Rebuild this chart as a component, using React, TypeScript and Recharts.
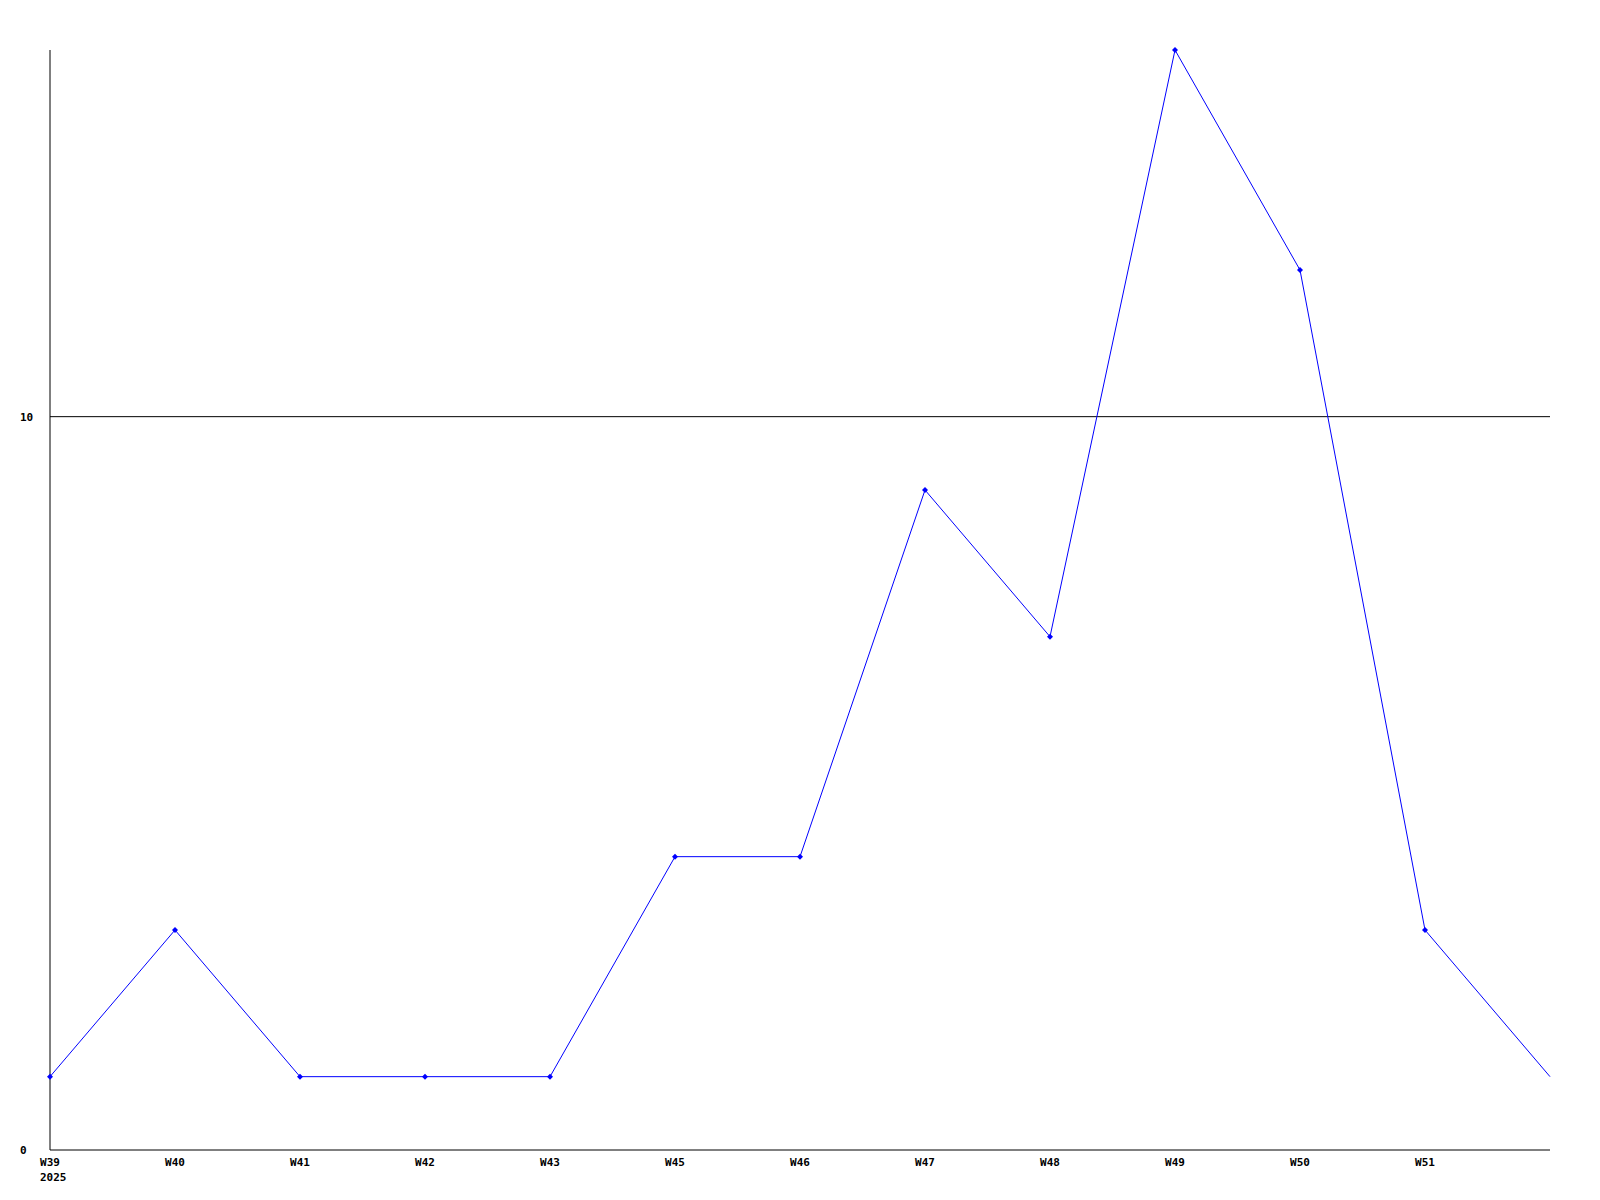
import { LineChart, Line, XAxis, YAxis, ReferenceLine } from 'recharts';

const weeks = ['W39', 'W40', 'W41', 'W42', 'W43', 'W45', 'W46', 'W47', 'W48', 'W49', 'W50', 'W51', ''];
const counts = [1, 3, 1, 1, 1, 4, 4, 9, 7, 15, 12, 3, 1];
const yTicks = [0, 10];
const yearLabel = '2025';

const data = weeks.map((w, i) => ({ week: w, idx: i, count: counts[i] }));

const font = '"DejaVu Sans Mono", monospace';

function XTick(props: any) {
    const { x, y, payload } = props;
    const label = weeks[payload.value];
    return (
        <g>
            <text x={x} y={y + 8} textAnchor="middle" fontFamily={font} fontWeight="bold" fontSize={11} fill="#000">{label}</text>
            {payload.value === 0 && (
                <text x={x - 10} y={y + 23} textAnchor="start" fontFamily={font} fontWeight="bold" fontSize={11} fill="#000">{yearLabel}</text>
            )}
        </g>
    );
}

function YTick(props: any) {
    const { y, payload } = props;
    return (
        <text x={20} y={y + 4} textAnchor="start" fontFamily={font} fontWeight="bold" fontSize={11} fill="#000">{payload.value}</text>
    );
}

function Dot(props: any) {
    const { cx, cy, index } = props;
    if (weeks[index] === '') return <g key={index} />;
    return (
        <path key={index} d={`M${cx - 3},${cy} L${cx},${cy - 3} L${cx + 3},${cy} L${cx},${cy + 3} Z`} fill="#0000ff" stroke="none" />
    );
}

export default function App() {
    return (
        <div style={{ position: 'absolute', left: 0, top: 0, background: '#fff' }}>
            <LineChart width={1600} height={1200} data={data} margin={{ top: 50, right: 50, bottom: 0, left: 0 }}>
                <XAxis dataKey="idx" type="number" domain={[0, weeks.length - 1]} ticks={weeks.map((_, i) => i)} tick={<XTick />} tickLine={false} axisLine={{ stroke: '#000' }} height={50} interval={0} />
                <YAxis domain={[0, 15]} ticks={yTicks} tick={<YTick />} tickLine={false} axisLine={{ stroke: '#000' }} width={50} />
                <ReferenceLine y={10} stroke="#000" />
                <Line type="linear" dataKey="count" stroke="#0000ff" strokeWidth={1} dot={<Dot />} activeDot={false} isAnimationActive={false} />
            </LineChart>
        </div>
    );
}
